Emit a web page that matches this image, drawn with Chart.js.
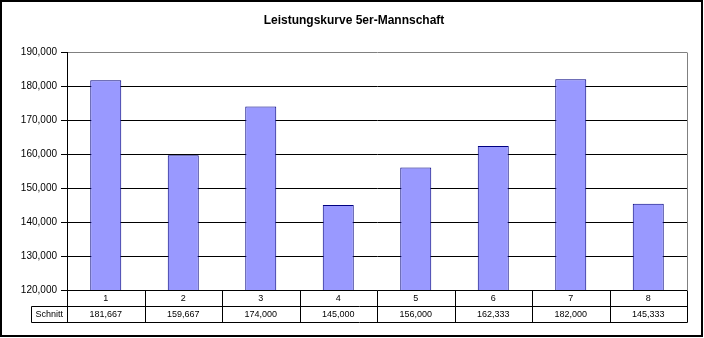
<!DOCTYPE html>
<html>
<head>
<meta charset="utf-8">
<script src="https://cdn.jsdelivr.net/npm/chart.js@4/dist/chart.umd.min.js"></script>
<style>
  body { margin: 0; background: #fff; }
  canvas { display: block; }
</style>
</head>
<body>
<canvas id="myChart" width="704" height="338"></canvas>
<script>
// Mannschaft 5er, Schnitt pro Spieltag
const spieltage = ['1', '2', '3', '4', '5', '6', '7', '8'];
const schnitt = [181667, 159667, 174000, 145000, 156000, 162333, 182000, 145333];
const reiheName = 'Schnitt';
const titel = 'Leistungskurve 5er-Mannschaft';
const yMin = 120000, yMax = 190000, yStep = 10000;

const zahl = (v) => v.toLocaleString('en-US');

// Rahmen, Titel und Datentabelle unter dem Diagramm
const tabelle = {
	id: 'tabelle',
	afterDraw(chart) {
		const ctx = chart.ctx;
		const a = chart.chartArea;
		const x = chart.scales.x;
		const L = Math.round(a.left) + 0.5, R = Math.round(a.right) + 0.5;
		const B = Math.round(a.bottom) + 0.5, T = Math.round(a.top) + 0.5;
		const zeile = 16, links = 31.5;

		ctx.save();
		ctx.lineWidth = 1;

		// rechter Rand der Zeichenfläche
		ctx.strokeStyle = '#808080';
		ctx.beginPath();
		ctx.moveTo(R, T); ctx.lineTo(R, B);
		ctx.stroke();

		ctx.strokeStyle = '#000';
		ctx.beginPath();
		ctx.moveTo(links, B + zeile); ctx.lineTo(R, B + zeile);
		ctx.moveTo(links, B + 2 * zeile); ctx.lineTo(R, B + 2 * zeile);
		ctx.moveTo(L, B); ctx.lineTo(L, B + 2 * zeile);
		ctx.moveTo(links, B + zeile); ctx.lineTo(links, B + 2 * zeile);
		ctx.moveTo(R, B); ctx.lineTo(R, B + 2 * zeile);
		for (let i = 0; i < spieltage.length - 1; i++) {
			const g = Math.round((x.getPixelForValue(i) + x.getPixelForValue(i + 1)) / 2) + 0.5;
			ctx.moveTo(g, B); ctx.lineTo(g, B + 2 * zeile);
		}
		ctx.stroke();

		ctx.fillStyle = '#000';
		ctx.textBaseline = 'middle';
		ctx.textAlign = 'left';
		ctx.font = '9px "Liberation Sans", Arial, sans-serif';
		ctx.fillText(reiheName, links + 4, B + zeile * 1.5);
		ctx.textAlign = 'center';
		spieltage.forEach((s, i) => {
			const cx = x.getPixelForValue(i);
			ctx.font = '9px "Liberation Sans", Arial, sans-serif';
			ctx.fillText(s, cx, B + zeile * 0.5);
			ctx.font = '9px "Liberation Sans Narrow", "Liberation Sans", Arial, sans-serif';
			ctx.fillText(zahl(schnitt[i]), cx, B + zeile * 1.5);
		});

		// Titel
		ctx.font = 'bold 12px "Liberation Sans", Arial, sans-serif';
		ctx.fillText(titel, 354, 21);

		// äußerer Rahmen
		ctx.lineWidth = 2;
		ctx.strokeRect(1, 1, 701, 335);
		ctx.restore();
	}
};

const ctx = document.getElementById('myChart');
new Chart(ctx, {
	type: 'bar',
	data: {
		labels: spieltage,
		datasets: [{
			label: reiheName,
			data: schnitt,
			backgroundColor: '#9999FF',
			borderColor: '#000080',
			borderWidth: 1,
			borderSkipped: 'bottom',
			categoryPercentage: 1,
			barPercentage: 0.4
		}]
	},
	options: {
		responsive: false,
		animation: false,
		layout: { padding: { top: 52, right: 17, bottom: 48, left: 0 } },
		plugins: {
			legend: { display: false },
			title: { display: false },
			tooltip: { enabled: false }
		},
		scales: {
			x: { display: false },
			y: {
				min: yMin,
				max: yMax,
				afterFit: (scale) => { scale.width = 67; },
				ticks: {
					stepSize: yStep,
					padding: 4,
					color: '#000',
					font: { family: '"Liberation Sans", Arial, sans-serif', size: 10 },
					callback: (v) => zahl(v)
				},
				grid: {
					color: (c) => (c.tick && c.tick.value === yMax ? '#808080' : '#000'),
					tickColor: '#000',
					tickLength: 6,
					lineWidth: 1
				},
				border: { display: true, color: '#000', width: 1 }
			}
		}
	},
	plugins: [tabelle]
});
</script>
</body>
</html>
